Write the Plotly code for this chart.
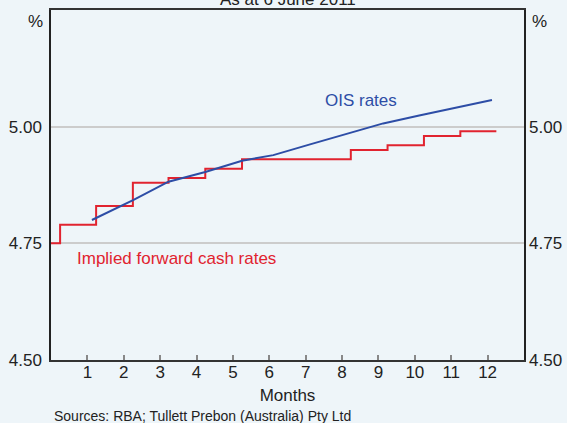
import plotly.graph_objects as go

# Implied forward cash rates (step series)
fwd_months = [0, 0.25, 1.24, 2.25, 3.23, 4.24, 5.25, 6.25, 7.25, 8.24, 9.25, 10.25, 11.25, 12.24]
fwd_rates = [4.75, 4.79, 4.83, 4.88, 4.89, 4.91, 4.93, 4.93, 4.93, 4.95, 4.96, 4.98, 4.99, 4.99]

# OIS rates
ois_months = [1.125, 2.27, 3.23, 4.24, 5.25, 6.11, 7.12, 8.12, 9.13, 10.12, 11.12, 12.12]
ois_rates = [4.800, 4.843, 4.882, 4.903, 4.927, 4.939, 4.962, 4.985, 5.007, 5.024, 5.041, 5.057]

x_ticks = list(range(1, 13))
y_ticks = [4.50, 4.75, 5.00]
y_tick_text = ["4.50", "4.75", "5.00"]

RED = "#E1232F"
BLUE = "#2D4DA6"
BG = "#EEF5F9"
FONT = "Liberation Sans, Arial, sans-serif"

fig = go.Figure()
fig.add_trace(go.Scatter(x=fwd_months, y=fwd_rates, mode="lines",
                         line=dict(color=RED, width=2, shape="hv"), showlegend=False))
fig.add_trace(go.Scatter(x=ois_months, y=ois_rates, mode="lines",
                         line=dict(color=BLUE, width=2), showlegend=False, yaxis="y2"))

fig.update_layout(
    width=567, height=423,
    margin=dict(l=51, r=43, t=10, b=63, autoexpand=False),
    paper_bgcolor=BG, plot_bgcolor=BG,
    font=dict(family=FONT, size=17, color="#222"),
    xaxis=dict(range=[0, 13], tickvals=x_ticks, ticks="inside", ticklen=5,
               tickcolor="#888", tickwidth=1.5, showline=True, linecolor="#333",
               linewidth=1.5, mirror=True, showgrid=False, zeroline=False,
               title=dict(text="Months", standoff=8, font=dict(size=17)),
               tickfont=dict(size=17), automargin=False, ticklabelstandoff=-4),
    yaxis=dict(range=[4.50, 5.25], tickvals=y_ticks, ticktext=y_tick_text,
               showgrid=True, gridcolor="#CCCCCC", gridwidth=1.5, ticks="",
               showline=True, linecolor="#222", linewidth=1.5, mirror=True,
               zeroline=False, tickfont=dict(size=17), ticklabelstandoff=4,
               automargin=False),
    yaxis2=dict(range=[4.50, 5.25], tickvals=y_ticks, ticktext=y_tick_text,
                overlaying="y", side="right", showgrid=False, ticks="",
                zeroline=False, tickfont=dict(size=17), ticklabelstandoff=4,
                automargin=False),
)

ann = [
    dict(text="As at 6 June 2011", x=0.5, y=(360 - (-1)) / 350, xref="paper", yref="paper",
         yanchor="middle", xanchor="center", font=dict(size=17)),
    dict(text="%", x=(35.5 - 51) / 473, y=(360 - 22) / 350, xref="paper", yref="paper",
         xanchor="center", yanchor="middle", font=dict(size=17)),
    dict(text="%", x=(539 - 51) / 473, y=(360 - 22) / 350, xref="paper", yref="paper",
         xanchor="center", yanchor="middle", font=dict(size=17)),
    dict(text="OIS rates", x=8.52, y=5.057, xref="x", yref="y",
         showarrow=False, font=dict(size=17, color=BLUE)),
    dict(text="Implied forward cash rates", x=3.45, y=4.718, xref="x", yref="y",
         showarrow=False, font=dict(size=17, color=RED)),
    dict(text="Sources: RBA; Tullett Prebon (Australia) Pty Ltd", x=(51.7 - 51) / 473,
         y=(360 - 415.5) / 350, xref="paper", yref="paper", xanchor="left",
         yanchor="middle", font=dict(size=14)),
]
for a in ann:
    a.setdefault("showarrow", False)
    fig.add_annotation(**a)

fig.write_html("out.html", config={"displayModeBar": False},
               post_script="document.body.style.margin='0px';document.body.style.overflow='hidden';")
